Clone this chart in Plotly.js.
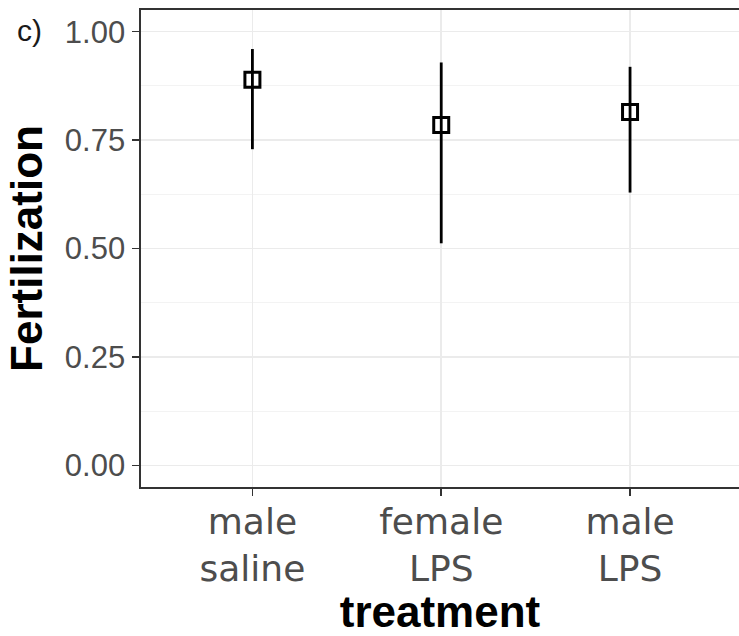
<!DOCTYPE html>
<html>
<head>
<meta charset="utf-8">
<script src="https://cdn.plot.ly/plotly-3.0.1.min.js"></script>
<style>html,body{margin:0;padding:0;background:#fff;overflow:hidden;}#chart{width:739px;height:636px;}</style>
</head>
<body>
<div id="chart"></div>
<script>
const categories = ["male<br>saline", "female<br>LPS", "male<br>LPS"];
const fertilization = [0.889, 0.785, 0.815];
const upper = [0.960, 0.929, 0.919];
const lower = [0.729, 0.512, 0.629];
const yTickVals = [0, 0.25, 0.5, 0.75, 1.0];
const yTickText = ["0.00", "0.25", "0.50", "0.75", "1.00"];

const trace = {
  type: "scatter",
  mode: "markers",
  x: categories,
  y: fertilization,
  marker: {symbol: "square-open", size: 15, color: "#000", line: {width: 3, color: "#000"}},
  error_y: {
    type: "data",
    symmetric: false,
    array: upper.map((u, i) => u - fertilization[i]),
    arrayminus: fertilization.map((m, i) => m - lower[i]),
    width: 0,
    thickness: 2.8,
    color: "#000"
  },
  hoverinfo: "none",
  showlegend: false
};

const font = "Liberation Sans, Arial, sans-serif";
const layout = {
  width: 739, height: 636,
  margin: {l: 141, r: 0, t: 10, b: 149},
  paper_bgcolor: "#fff", plot_bgcolor: "#fff",
  xaxis: {
    type: "category",
    range: [-0.59, 2.577],
    showgrid: true, gridcolor: "#ebebeb", gridwidth: 1.5,
    showline: true, linecolor: "#333", linewidth: 1.6, mirror: true,
    ticks: "outside", ticklen: 7, tickwidth: 1.6, tickcolor: "#333",
    ticklabelstandoff: -5,
    tickfont: {family: "DejaVu Sans, sans-serif", size: 36, color: "#4d4d4d"},
    title: {text: "<b>treatment</b>", font: {family: font, size: 44, color: "#000"}, standoff: 9},
    zeroline: false, fixedrange: true, automargin: false
  },
  yaxis: {
    range: [-0.05, 1.05],
    tickvals: yTickVals, ticktext: yTickText,
    showgrid: true, gridcolor: "#ebebeb", gridwidth: 1.5,
    minor: {tickvals: [0.125, 0.375, 0.625, 0.875], showgrid: true, gridcolor: "#f3f3f3", gridwidth: 1, ticks: ""},
    showline: true, linecolor: "#333", linewidth: 1.6,
    ticks: "outside", ticklen: 7, tickwidth: 1.6, tickcolor: "#333",
    ticklabelstandoff: 1,
    tickfont: {family: font, size: 31, color: "#4d4d4d"},
    title: {text: "<b>Fertilization</b>", font: {family: font, size: 44, color: "#000"}, standoff: 8},
    zeroline: false, fixedrange: true, automargin: false
  },
  annotations: [{
    text: "c)", xref: "paper", yref: "paper", x: -0.21, y: 0.995,
    xanchor: "left", yanchor: "top", showarrow: false,
    font: {family: font, size: 30, color: "#1a1a1a"}
  }]
};

Plotly.newPlot("chart", [trace], layout, {displayModeBar: false, staticPlot: true});
</script>
</body>
</html>
